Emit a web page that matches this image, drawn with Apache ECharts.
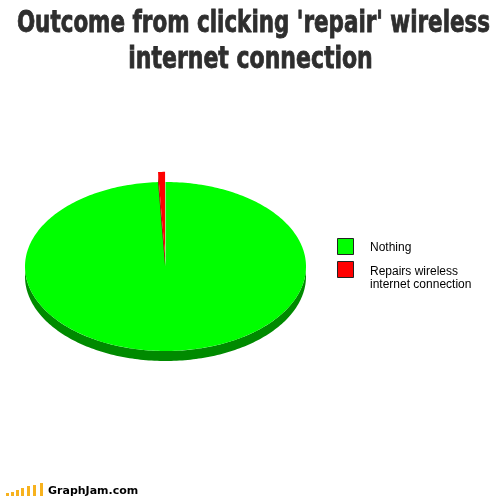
<!DOCTYPE html>
<html>
<head>
<meta charset="utf-8">
<script src="https://cdn.jsdelivr.net/npm/echarts@6/dist/echarts.min.js"></script>
<style>
html,body{margin:0;padding:0;background:#fff;}
#chart{width:504px;height:497px;}
</style>
</head>
<body>
<div id="chart"></div>
<script>
// ---- data ----
var titleLines = ["Outcome from clicking 'repair' wireless", "internet connection"];
var categories = ["Nothing", "Repairs wireless\ninternet connection"];
var values = [99.2, 0.8];
var exploded = [false, true];

// ---- styles ----
var topColors = ["#00ff00", "#ff0000"];
var sideColors = ["#008a00", "#a00000"];

var chart = echarts.init(document.getElementById('chart'));

var total = values.reduce(function (a, b) { return a + b; }, 0);
var cum = 0;
var ranges = values.map(function (v) {
  var s = cum / total; cum += v; return [s, cum / total];
});

var DEPTH = 10;      // px thickness of the pie
var EXPLODE = 0.12;  // explode distance in axis units

function makeRender(idx) {
  return function (params, api) {
    var f0 = api.value(0), f1 = api.value(1);
    var a0 = Math.PI / 2 - 2 * Math.PI * f0;
    var a1 = Math.PI / 2 - 2 * Math.PI * f1;
    var mid = (a0 + a1) / 2;
    var ox = exploded[idx] ? EXPLODE * Math.cos(mid) : 0;
    var oy = exploded[idx] ? EXPLODE * Math.sin(mid) : 0;
    function pt(a) { return api.coord([ox + Math.cos(a), oy + Math.sin(a)]); }
    var center = api.coord([ox, oy]);
    var steps = Math.max(4, Math.ceil((a0 - a1) / 0.02));
    var topPts = [center];
    for (var i = 0; i <= steps; i++) topPts.push(pt(a0 + (a1 - a0) * i / steps));
    var children = [];
    // outer side wall on the front half (sin < 0)
    for (var k = -2; k <= 1; k++) {
      var lo = -Math.PI + 2 * Math.PI * k, hi = 2 * Math.PI * k;
      var s = Math.max(a1, lo), e = Math.min(a0, hi);
      if (e > s) {
        var n = Math.max(4, Math.ceil((e - s) / 0.02));
        var up = [], dn = [];
        for (var j = 0; j <= n; j++) {
          var p = pt(e - (e - s) * j / n);
          up.push(p); dn.unshift([p[0], p[1] + DEPTH]);
        }
        children.push({ type: 'polygon', shape: { points: up.concat(dn) }, style: { fill: sideColors[idx] } });
      }
    }
    if (exploded[idx]) {
      [a0, a1].forEach(function (a) {
        var p = pt(a);
        children.push({ type: 'polygon', shape: { points: [center, p, [p[0], p[1] + DEPTH], [center[0], center[1] + DEPTH]] }, style: { fill: sideColors[idx] } });
      });
    }
    children.push({ type: 'polygon', shape: { points: topPts }, style: { fill: topColors[idx] } });
    return { type: 'group', children: children };
  };
}

var series = categories.map(function (name, i) {
  return {
    type: 'custom',
    name: name,
    coordinateSystem: 'cartesian2d',
    clip: false,
    silent: true,
    itemStyle: { color: topColors[i] },
    renderItem: makeRender(i),
    data: [ranges[i]],
    z: 2 + i
  };
});

var graphics = [];
// title (condensed bold, squeezed horizontally like the original poster font)
var titleFont = 'bold 30px "DejaVu Sans Condensed", "DejaVu Sans", sans-serif';
var titleX = [253.5, 250.5];
var titleScale = [0.795, 0.815];
titleLines.forEach(function (t, i) {
  graphics.push({
    type: 'text', x: titleX[i], y: 24 + i * 36, scaleX: titleScale[i], scaleY: 1,
    style: { text: t, font: titleFont, fill: '#2e2e2e', stroke: '#2e2e2e', lineWidth: 0.8, align: 'center', verticalAlign: 'middle' }
  });
});
// legend
var legendTops = [238.5, 261.5];
categories.forEach(function (c, i) {
  graphics.push({
    type: 'rect', shape: { x: 337.5, y: legendTops[i], width: 16, height: 16 },
    style: { fill: topColors[i], stroke: '#222', lineWidth: 1 }
  });
  graphics.push({
    type: 'text', x: 370, y: i === 0 ? 241 : 265.5,
    style: { text: c, font: '12px "Liberation Sans", Arial, sans-serif', lineHeight: 12.5, fill: '#000', align: 'left', verticalAlign: 'top' }
  });
});
// GraphJam logo
var logoBars = [[6, 3], [11, 4], [16, 6], [21, 8], [27, 10], [33, 11], [40, 13]];
logoBars.forEach(function (b) {
  graphics.push({ type: 'rect', shape: { x: b[0], y: 496 - b[1], width: 3, height: b[1] }, style: { fill: '#f7b21e' } });
});
graphics.push({ type: 'text', x: 48, y: 486, style: { text: 'GraphJam.com', font: 'bold 11px "DejaVu Sans"', fill: '#000' } });

chart.setOption({
  backgroundColor: '#ffffff',
  animation: false,
  grid: { left: 25, top: 182, width: 281, height: 169 },
  xAxis: { type: 'value', min: -1, max: 1, show: false },
  yAxis: { type: 'value', min: -1, max: 1, show: false },
  graphic: graphics,
  series: series
});
</script>
</body>
</html>
